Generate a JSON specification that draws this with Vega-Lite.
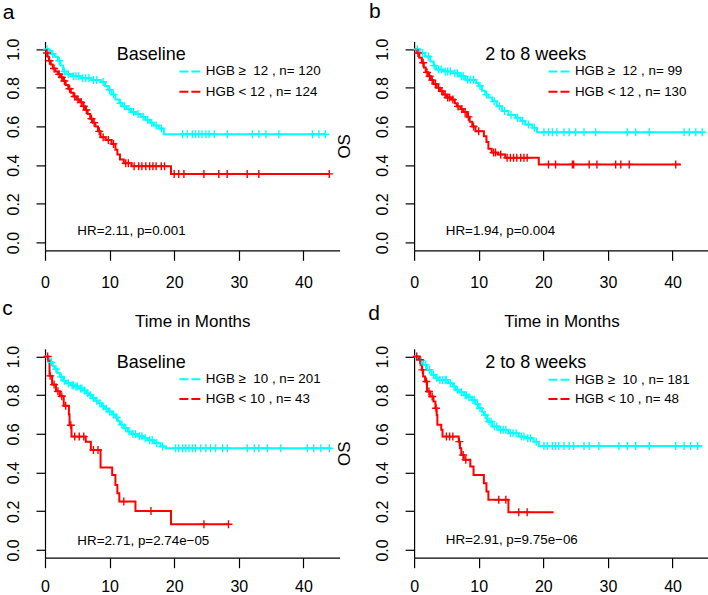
{
"$schema": "https://vega.github.io/schema/vega-lite/v6.json",
"usermeta": {"embedOptions": {"actions": false}},
"background": "white",
"padding": {"left": 2, "top": 0.4, "right": 0, "bottom": 0},
"bounds": "flush",
"columns": 2,
"spacing": {"row": 98.4, "column": 74.1},
"datasets": {
"km": [
{"p":"a","g":"hi","t":0,"s":1},{"p":"a","g":"hi","t":0.6,"s":0.99},{"p":"a","g":"hi","t":1.0,"s":0.975},{"p":"a","g":"hi","t":1.5,"s":0.96},{"p":"a","g":"hi","t":2.0,"s":0.94},{"p":"a","g":"hi","t":2.4,"s":0.915},{"p":"a","g":"hi","t":2.8,"s":0.885},{"p":"a","g":"hi","t":3.3,"s":0.87},{"p":"a","g":"hi","t":4.2,"s":0.86},{"p":"a","g":"hi","t":5.6,"s":0.85},{"p":"a","g":"hi","t":7.2,"s":0.84},{"p":"a","g":"hi","t":8.6,"s":0.83},{"p":"a","g":"hi","t":9.3,"s":0.81},{"p":"a","g":"hi","t":9.8,"s":0.79},{"p":"a","g":"hi","t":10.3,"s":0.765},{"p":"a","g":"hi","t":10.9,"s":0.74},{"p":"a","g":"hi","t":11.5,"s":0.72},{"p":"a","g":"hi","t":12.0,"s":0.705},{"p":"a","g":"hi","t":12.6,"s":0.69},{"p":"a","g":"hi","t":13.3,"s":0.675},{"p":"a","g":"hi","t":14.0,"s":0.665},{"p":"a","g":"hi","t":14.8,"s":0.65},{"p":"a","g":"hi","t":15.5,"s":0.635},{"p":"a","g":"hi","t":16.2,"s":0.62},{"p":"a","g":"hi","t":16.8,"s":0.605},{"p":"a","g":"hi","t":17.6,"s":0.59},{"p":"a","g":"hi","t":18.4,"s":0.56},{"p":"a","g":"hi","t":43.4,"s":0.56},
{"p":"a","g":"lo","t":0,"s":1},{"p":"a","g":"lo","t":0.2,"s":0.98},{"p":"a","g":"lo","t":0.4,"s":0.96},{"p":"a","g":"lo","t":0.6,"s":0.94},{"p":"a","g":"lo","t":0.9,"s":0.92},{"p":"a","g":"lo","t":1.2,"s":0.9},{"p":"a","g":"lo","t":1.6,"s":0.885},{"p":"a","g":"lo","t":2.0,"s":0.87},{"p":"a","g":"lo","t":2.4,"s":0.855},{"p":"a","g":"lo","t":2.8,"s":0.835},{"p":"a","g":"lo","t":3.2,"s":0.815},{"p":"a","g":"lo","t":3.6,"s":0.795},{"p":"a","g":"lo","t":4.0,"s":0.775},{"p":"a","g":"lo","t":4.4,"s":0.755},{"p":"a","g":"lo","t":4.9,"s":0.74},{"p":"a","g":"lo","t":5.4,"s":0.725},{"p":"a","g":"lo","t":5.9,"s":0.705},{"p":"a","g":"lo","t":6.2,"s":0.685},{"p":"a","g":"lo","t":6.6,"s":0.665},{"p":"a","g":"lo","t":7.0,"s":0.64},{"p":"a","g":"lo","t":7.4,"s":0.62},{"p":"a","g":"lo","t":7.8,"s":0.6},{"p":"a","g":"lo","t":8.2,"s":0.575},{"p":"a","g":"lo","t":8.6,"s":0.545},{"p":"a","g":"lo","t":9.4,"s":0.53},{"p":"a","g":"lo","t":10.3,"s":0.51},{"p":"a","g":"lo","t":10.9,"s":0.48},{"p":"a","g":"lo","t":11.2,"s":0.455},{"p":"a","g":"lo","t":11.6,"s":0.43},{"p":"a","g":"lo","t":12.2,"s":0.41},{"p":"a","g":"lo","t":13.4,"s":0.395},{"p":"a","g":"lo","t":19.5,"s":0.355},{"p":"a","g":"lo","t":44.0,"s":0.355},
{"p":"b","g":"hi","t":0,"s":1},{"p":"b","g":"hi","t":0.9,"s":0.98},{"p":"b","g":"hi","t":1.7,"s":0.962},{"p":"b","g":"hi","t":2.5,"s":0.936},{"p":"b","g":"hi","t":3.0,"s":0.915},{"p":"b","g":"hi","t":3.4,"s":0.895},{"p":"b","g":"hi","t":4.5,"s":0.885},{"p":"b","g":"hi","t":6.0,"s":0.875},{"p":"b","g":"hi","t":7.0,"s":0.86},{"p":"b","g":"hi","t":7.9,"s":0.842},{"p":"b","g":"hi","t":9.6,"s":0.825},{"p":"b","g":"hi","t":10.0,"s":0.81},{"p":"b","g":"hi","t":10.5,"s":0.785},{"p":"b","g":"hi","t":11.0,"s":0.765},{"p":"b","g":"hi","t":11.5,"s":0.75},{"p":"b","g":"hi","t":12.1,"s":0.73},{"p":"b","g":"hi","t":12.8,"s":0.705},{"p":"b","g":"hi","t":13.6,"s":0.68},{"p":"b","g":"hi","t":14.6,"s":0.66},{"p":"b","g":"hi","t":15.7,"s":0.645},{"p":"b","g":"hi","t":16.5,"s":0.628},{"p":"b","g":"hi","t":17.2,"s":0.61},{"p":"b","g":"hi","t":18.3,"s":0.593},{"p":"b","g":"hi","t":19.0,"s":0.57},{"p":"b","g":"hi","t":44.6,"s":0.57},
{"p":"b","g":"lo","t":0,"s":1},{"p":"b","g":"lo","t":0.4,"s":0.98},{"p":"b","g":"lo","t":0.8,"s":0.955},{"p":"b","g":"lo","t":1.2,"s":0.93},{"p":"b","g":"lo","t":1.5,"s":0.905},{"p":"b","g":"lo","t":1.8,"s":0.88},{"p":"b","g":"lo","t":2.2,"s":0.86},{"p":"b","g":"lo","t":2.6,"s":0.84},{"p":"b","g":"lo","t":3.0,"s":0.82},{"p":"b","g":"lo","t":3.5,"s":0.8},{"p":"b","g":"lo","t":4.0,"s":0.782},{"p":"b","g":"lo","t":4.5,"s":0.765},{"p":"b","g":"lo","t":5.0,"s":0.75},{"p":"b","g":"lo","t":5.8,"s":0.739},{"p":"b","g":"lo","t":6.3,"s":0.72},{"p":"b","g":"lo","t":6.6,"s":0.704},{"p":"b","g":"lo","t":7.2,"s":0.69},{"p":"b","g":"lo","t":7.6,"s":0.675},{"p":"b","g":"lo","t":8.2,"s":0.65},{"p":"b","g":"lo","t":8.6,"s":0.625},{"p":"b","g":"lo","t":9.0,"s":0.6},{"p":"b","g":"lo","t":9.5,"s":0.576},{"p":"b","g":"lo","t":10.8,"s":0.55},{"p":"b","g":"lo","t":11.2,"s":0.52},{"p":"b","g":"lo","t":11.5,"s":0.485},{"p":"b","g":"lo","t":12.0,"s":0.465},{"p":"b","g":"lo","t":13.0,"s":0.455},{"p":"b","g":"lo","t":14.1,"s":0.438},{"p":"b","g":"lo","t":19.3,"s":0.404},{"p":"b","g":"lo","t":41.3,"s":0.404},
{"p":"c","g":"hi","t":0,"s":1},{"p":"c","g":"hi","t":0.5,"s":0.985},{"p":"c","g":"hi","t":0.9,"s":0.97},{"p":"c","g":"hi","t":1.2,"s":0.95},{"p":"c","g":"hi","t":1.5,"s":0.935},{"p":"c","g":"hi","t":1.9,"s":0.915},{"p":"c","g":"hi","t":2.3,"s":0.895},{"p":"c","g":"hi","t":2.8,"s":0.875},{"p":"c","g":"hi","t":3.3,"s":0.862},{"p":"c","g":"hi","t":4.0,"s":0.852},{"p":"c","g":"hi","t":4.6,"s":0.845},{"p":"c","g":"hi","t":5.3,"s":0.835},{"p":"c","g":"hi","t":5.9,"s":0.825},{"p":"c","g":"hi","t":6.4,"s":0.81},{"p":"c","g":"hi","t":6.8,"s":0.8},{"p":"c","g":"hi","t":7.3,"s":0.785},{"p":"c","g":"hi","t":7.8,"s":0.772},{"p":"c","g":"hi","t":8.3,"s":0.758},{"p":"c","g":"hi","t":8.8,"s":0.742},{"p":"c","g":"hi","t":9.3,"s":0.73},{"p":"c","g":"hi","t":9.8,"s":0.716},{"p":"c","g":"hi","t":10.4,"s":0.7},{"p":"c","g":"hi","t":10.9,"s":0.685},{"p":"c","g":"hi","t":11.3,"s":0.665},{"p":"c","g":"hi","t":11.6,"s":0.648},{"p":"c","g":"hi","t":12.2,"s":0.63},{"p":"c","g":"hi","t":12.8,"s":0.612},{"p":"c","g":"hi","t":13.4,"s":0.6},{"p":"c","g":"hi","t":14.3,"s":0.588},{"p":"c","g":"hi","t":15.2,"s":0.578},{"p":"c","g":"hi","t":15.9,"s":0.567},{"p":"c","g":"hi","t":16.9,"s":0.552},{"p":"c","g":"hi","t":17.9,"s":0.535},{"p":"c","g":"hi","t":18.7,"s":0.526},{"p":"c","g":"hi","t":44.2,"s":0.526},
{"p":"c","g":"lo","t":0,"s":1},{"p":"c","g":"lo","t":0.5,"s":0.975},{"p":"c","g":"lo","t":0.7,"s":0.9},{"p":"c","g":"lo","t":1.1,"s":0.855},{"p":"c","g":"lo","t":1.7,"s":0.82},{"p":"c","g":"lo","t":2.3,"s":0.795},{"p":"c","g":"lo","t":2.9,"s":0.745},{"p":"c","g":"lo","t":3.7,"s":0.7},{"p":"c","g":"lo","t":3.8,"s":0.645},{"p":"c","g":"lo","t":4.1,"s":0.586},{"p":"c","g":"lo","t":6.3,"s":0.56},{"p":"c","g":"lo","t":7.1,"s":0.517},{"p":"c","g":"lo","t":8.6,"s":0.426},{"p":"c","g":"lo","t":10.4,"s":0.388},{"p":"c","g":"lo","t":10.9,"s":0.336},{"p":"c","g":"lo","t":11.2,"s":0.293},{"p":"c","g":"lo","t":11.5,"s":0.25},{"p":"c","g":"lo","t":14.0,"s":0.202},{"p":"c","g":"lo","t":19.5,"s":0.133},{"p":"c","g":"lo","t":28.4,"s":0.133},
{"p":"d","g":"hi","t":0,"s":1},{"p":"d","g":"hi","t":0.6,"s":0.99},{"p":"d","g":"hi","t":0.9,"s":0.98},{"p":"d","g":"hi","t":1.4,"s":0.957},{"p":"d","g":"hi","t":2.0,"s":0.931},{"p":"d","g":"hi","t":2.7,"s":0.905},{"p":"d","g":"hi","t":3.3,"s":0.89},{"p":"d","g":"hi","t":3.8,"s":0.879},{"p":"d","g":"hi","t":5.3,"s":0.862},{"p":"d","g":"hi","t":6.0,"s":0.845},{"p":"d","g":"hi","t":6.4,"s":0.828},{"p":"d","g":"hi","t":7.0,"s":0.815},{"p":"d","g":"hi","t":7.7,"s":0.8},{"p":"d","g":"hi","t":8.3,"s":0.79},{"p":"d","g":"hi","t":8.9,"s":0.776},{"p":"d","g":"hi","t":9.5,"s":0.755},{"p":"d","g":"hi","t":10.0,"s":0.733},{"p":"d","g":"hi","t":10.5,"s":0.715},{"p":"d","g":"hi","t":10.8,"s":0.698},{"p":"d","g":"hi","t":11.3,"s":0.664},{"p":"d","g":"hi","t":12.1,"s":0.638},{"p":"d","g":"hi","t":13.1,"s":0.621},{"p":"d","g":"hi","t":14.6,"s":0.603},{"p":"d","g":"hi","t":16.2,"s":0.586},{"p":"d","g":"hi","t":17.2,"s":0.578},{"p":"d","g":"hi","t":18.5,"s":0.56},{"p":"d","g":"hi","t":19.3,"s":0.538},{"p":"d","g":"hi","t":44.6,"s":0.538},
{"p":"d","g":"lo","t":0,"s":1},{"p":"d","g":"lo","t":0.7,"s":0.983},{"p":"d","g":"lo","t":1.0,"s":0.957},{"p":"d","g":"lo","t":1.2,"s":0.931},{"p":"d","g":"lo","t":1.4,"s":0.897},{"p":"d","g":"lo","t":1.7,"s":0.871},{"p":"d","g":"lo","t":2.0,"s":0.819},{"p":"d","g":"lo","t":2.5,"s":0.793},{"p":"d","g":"lo","t":3.0,"s":0.767},{"p":"d","g":"lo","t":3.3,"s":0.733},{"p":"d","g":"lo","t":3.5,"s":0.698},{"p":"d","g":"lo","t":3.6,"s":0.647},{"p":"d","g":"lo","t":4.2,"s":0.621},{"p":"d","g":"lo","t":4.4,"s":0.586},{"p":"d","g":"lo","t":6.9,"s":0.56},{"p":"d","g":"lo","t":7.1,"s":0.526},{"p":"d","g":"lo","t":7.3,"s":0.491},{"p":"d","g":"lo","t":7.7,"s":0.466},{"p":"d","g":"lo","t":8.7,"s":0.431},{"p":"d","g":"lo","t":9.2,"s":0.388},{"p":"d","g":"lo","t":10.8,"s":0.345},{"p":"d","g":"lo","t":11.2,"s":0.302},{"p":"d","g":"lo","t":11.5,"s":0.259},{"p":"d","g":"lo","t":14.6,"s":0.195},{"p":"d","g":"lo","t":21.6,"s":0.195}
],
"cz": [
{"p":"a","g":"hi","t":0.3,"s":1},{"p":"a","g":"hi","t":1.2,"s":0.975},{"p":"a","g":"hi","t":2.2,"s":0.94},{"p":"a","g":"hi","t":3.0,"s":0.885},{"p":"a","g":"hi","t":3.6,"s":0.87},{"p":"a","g":"hi","t":4.4,"s":0.86},{"p":"a","g":"hi","t":4.8,"s":0.86},{"p":"a","g":"hi","t":5.2,"s":0.86},{"p":"a","g":"hi","t":5.8,"s":0.85},{"p":"a","g":"hi","t":6.3,"s":0.85},{"p":"a","g":"hi","t":6.8,"s":0.85},{"p":"a","g":"hi","t":7.5,"s":0.84},{"p":"a","g":"hi","t":8.0,"s":0.84},{"p":"a","g":"hi","t":9.0,"s":0.83},{"p":"a","g":"hi","t":10.0,"s":0.79},{"p":"a","g":"hi","t":10.6,"s":0.765},{"p":"a","g":"hi","t":11.7,"s":0.72},{"p":"a","g":"hi","t":12.3,"s":0.705},{"p":"a","g":"hi","t":13.0,"s":0.69},{"p":"a","g":"hi","t":13.7,"s":0.675},{"p":"a","g":"hi","t":14.4,"s":0.665},{"p":"a","g":"hi","t":15.2,"s":0.65},{"p":"a","g":"hi","t":15.9,"s":0.635},{"p":"a","g":"hi","t":16.5,"s":0.62},{"p":"a","g":"hi","t":17.2,"s":0.605},{"p":"a","g":"hi","t":18.0,"s":0.59},{"p":"a","g":"hi","t":21.3,"s":0.56},{"p":"a","g":"hi","t":22.0,"s":0.56},{"p":"a","g":"hi","t":22.8,"s":0.56},{"p":"a","g":"hi","t":23.3,"s":0.56},{"p":"a","g":"hi","t":23.8,"s":0.56},{"p":"a","g":"hi","t":24.3,"s":0.56},{"p":"a","g":"hi","t":24.9,"s":0.56},{"p":"a","g":"hi","t":25.4,"s":0.56},{"p":"a","g":"hi","t":26.2,"s":0.56},{"p":"a","g":"hi","t":28.2,"s":0.56},{"p":"a","g":"hi","t":32.1,"s":0.56},{"p":"a","g":"hi","t":33.1,"s":0.56},{"p":"a","g":"hi","t":34.2,"s":0.56},{"p":"a","g":"hi","t":36.2,"s":0.56},{"p":"a","g":"hi","t":41.4,"s":0.56},{"p":"a","g":"hi","t":42.4,"s":0.56},{"p":"a","g":"hi","t":43.4,"s":0.56},
{"p":"a","g":"lo","t":0.3,"s":0.98},{"p":"a","g":"lo","t":0.7,"s":0.94},{"p":"a","g":"lo","t":1.4,"s":0.9},{"p":"a","g":"lo","t":2.2,"s":0.87},{"p":"a","g":"lo","t":2.6,"s":0.855},{"p":"a","g":"lo","t":3.0,"s":0.835},{"p":"a","g":"lo","t":3.8,"s":0.795},{"p":"a","g":"lo","t":4.6,"s":0.755},{"p":"a","g":"lo","t":5.1,"s":0.74},{"p":"a","g":"lo","t":5.6,"s":0.725},{"p":"a","g":"lo","t":6.0,"s":0.705},{"p":"a","g":"lo","t":6.4,"s":0.685},{"p":"a","g":"lo","t":7.2,"s":0.64},{"p":"a","g":"lo","t":7.6,"s":0.62},{"p":"a","g":"lo","t":8.4,"s":0.575},{"p":"a","g":"lo","t":9.0,"s":0.545},{"p":"a","g":"lo","t":9.8,"s":0.53},{"p":"a","g":"lo","t":10.6,"s":0.51},{"p":"a","g":"lo","t":12.5,"s":0.41},{"p":"a","g":"lo","t":12.9,"s":0.41},{"p":"a","g":"lo","t":13.8,"s":0.395},{"p":"a","g":"lo","t":14.5,"s":0.395},{"p":"a","g":"lo","t":15.0,"s":0.395},{"p":"a","g":"lo","t":15.6,"s":0.395},{"p":"a","g":"lo","t":16.2,"s":0.395},{"p":"a","g":"lo","t":16.7,"s":0.395},{"p":"a","g":"lo","t":17.2,"s":0.395},{"p":"a","g":"lo","t":18.0,"s":0.395},{"p":"a","g":"lo","t":18.5,"s":0.395},{"p":"a","g":"lo","t":20.0,"s":0.355},{"p":"a","g":"lo","t":20.7,"s":0.355},{"p":"a","g":"lo","t":21.5,"s":0.355},{"p":"a","g":"lo","t":24.6,"s":0.355},{"p":"a","g":"lo","t":26.9,"s":0.355},{"p":"a","g":"lo","t":28.2,"s":0.355},{"p":"a","g":"lo","t":31.3,"s":0.355},{"p":"a","g":"lo","t":33.1,"s":0.355},{"p":"a","g":"lo","t":44.0,"s":0.355},
{"p":"b","g":"hi","t":0.5,"s":1},{"p":"b","g":"hi","t":1.3,"s":0.98},{"p":"b","g":"hi","t":2.2,"s":0.962},{"p":"b","g":"hi","t":3.1,"s":0.915},{"p":"b","g":"hi","t":3.8,"s":0.895},{"p":"b","g":"hi","t":4.2,"s":0.895},{"p":"b","g":"hi","t":4.8,"s":0.885},{"p":"b","g":"hi","t":5.2,"s":0.885},{"p":"b","g":"hi","t":5.6,"s":0.885},{"p":"b","g":"hi","t":6.3,"s":0.875},{"p":"b","g":"hi","t":6.7,"s":0.875},{"p":"b","g":"hi","t":7.3,"s":0.86},{"p":"b","g":"hi","t":7.6,"s":0.86},{"p":"b","g":"hi","t":8.3,"s":0.842},{"p":"b","g":"hi","t":8.7,"s":0.842},{"p":"b","g":"hi","t":9.2,"s":0.842},{"p":"b","g":"hi","t":10.2,"s":0.81},{"p":"b","g":"hi","t":11.2,"s":0.765},{"p":"b","g":"hi","t":12.4,"s":0.73},{"p":"b","g":"hi","t":13.2,"s":0.705},{"p":"b","g":"hi","t":14.0,"s":0.68},{"p":"b","g":"hi","t":15.0,"s":0.66},{"p":"b","g":"hi","t":16.0,"s":0.645},{"p":"b","g":"hi","t":16.8,"s":0.628},{"p":"b","g":"hi","t":17.7,"s":0.61},{"p":"b","g":"hi","t":18.6,"s":0.593},{"p":"b","g":"hi","t":20.1,"s":0.57},{"p":"b","g":"hi","t":20.8,"s":0.57},{"p":"b","g":"hi","t":21.4,"s":0.57},{"p":"b","g":"hi","t":22.1,"s":0.57},{"p":"b","g":"hi","t":23.2,"s":0.57},{"p":"b","g":"hi","t":24.0,"s":0.57},{"p":"b","g":"hi","t":25.0,"s":0.57},{"p":"b","g":"hi","t":26.3,"s":0.57},{"p":"b","g":"hi","t":28.1,"s":0.57},{"p":"b","g":"hi","t":33.0,"s":0.57},{"p":"b","g":"hi","t":34.3,"s":0.57},{"p":"b","g":"hi","t":36.4,"s":0.57},{"p":"b","g":"hi","t":41.8,"s":0.57},{"p":"b","g":"hi","t":42.6,"s":0.57},{"p":"b","g":"hi","t":43.6,"s":0.57},{"p":"b","g":"hi","t":44.6,"s":0.57},
{"p":"b","g":"lo","t":0.6,"s":0.98},{"p":"b","g":"lo","t":1.4,"s":0.93},{"p":"b","g":"lo","t":2.0,"s":0.88},{"p":"b","g":"lo","t":2.4,"s":0.86},{"p":"b","g":"lo","t":2.8,"s":0.84},{"p":"b","g":"lo","t":3.3,"s":0.82},{"p":"b","g":"lo","t":3.8,"s":0.8},{"p":"b","g":"lo","t":4.3,"s":0.782},{"p":"b","g":"lo","t":4.8,"s":0.765},{"p":"b","g":"lo","t":5.2,"s":0.75},{"p":"b","g":"lo","t":5.5,"s":0.75},{"p":"b","g":"lo","t":6.0,"s":0.739},{"p":"b","g":"lo","t":6.8,"s":0.704},{"p":"b","g":"lo","t":7.4,"s":0.69},{"p":"b","g":"lo","t":7.9,"s":0.675},{"p":"b","g":"lo","t":8.4,"s":0.65},{"p":"b","g":"lo","t":9.2,"s":0.6},{"p":"b","g":"lo","t":10.0,"s":0.576},{"p":"b","g":"lo","t":12.3,"s":0.465},{"p":"b","g":"lo","t":12.6,"s":0.465},{"p":"b","g":"lo","t":13.4,"s":0.455},{"p":"b","g":"lo","t":14.4,"s":0.438},{"p":"b","g":"lo","t":14.9,"s":0.438},{"p":"b","g":"lo","t":15.4,"s":0.438},{"p":"b","g":"lo","t":15.9,"s":0.438},{"p":"b","g":"lo","t":16.5,"s":0.438},{"p":"b","g":"lo","t":17.0,"s":0.438},{"p":"b","g":"lo","t":17.5,"s":0.438},{"p":"b","g":"lo","t":20.8,"s":0.404},{"p":"b","g":"lo","t":21.9,"s":0.404},{"p":"b","g":"lo","t":24.5,"s":0.404},{"p":"b","g":"lo","t":24.7,"s":0.404},{"p":"b","g":"lo","t":27.1,"s":0.404},{"p":"b","g":"lo","t":28.3,"s":0.404},{"p":"b","g":"lo","t":31.2,"s":0.404},{"p":"b","g":"lo","t":32.0,"s":0.404},{"p":"b","g":"lo","t":33.3,"s":0.404},{"p":"b","g":"lo","t":40.5,"s":0.404},
{"p":"c","g":"hi","t":0.4,"s":1},{"p":"c","g":"hi","t":1.0,"s":0.97},{"p":"c","g":"hi","t":1.7,"s":0.935},{"p":"c","g":"hi","t":2.5,"s":0.895},{"p":"c","g":"hi","t":3.0,"s":0.875},{"p":"c","g":"hi","t":3.6,"s":0.862},{"p":"c","g":"hi","t":4.2,"s":0.852},{"p":"c","g":"hi","t":4.4,"s":0.852},{"p":"c","g":"hi","t":4.8,"s":0.845},{"p":"c","g":"hi","t":5.0,"s":0.845},{"p":"c","g":"hi","t":5.5,"s":0.835},{"p":"c","g":"hi","t":5.7,"s":0.835},{"p":"c","g":"hi","t":6.1,"s":0.825},{"p":"c","g":"hi","t":6.6,"s":0.81},{"p":"c","g":"hi","t":7.0,"s":0.8},{"p":"c","g":"hi","t":7.5,"s":0.785},{"p":"c","g":"hi","t":8.0,"s":0.772},{"p":"c","g":"hi","t":8.5,"s":0.758},{"p":"c","g":"hi","t":9.0,"s":0.742},{"p":"c","g":"hi","t":9.5,"s":0.73},{"p":"c","g":"hi","t":10.0,"s":0.716},{"p":"c","g":"hi","t":10.6,"s":0.7},{"p":"c","g":"hi","t":11.1,"s":0.685},{"p":"c","g":"hi","t":11.9,"s":0.648},{"p":"c","g":"hi","t":12.5,"s":0.63},{"p":"c","g":"hi","t":13.0,"s":0.612},{"p":"c","g":"hi","t":13.6,"s":0.6},{"p":"c","g":"hi","t":14.0,"s":0.6},{"p":"c","g":"hi","t":14.6,"s":0.588},{"p":"c","g":"hi","t":15.0,"s":0.588},{"p":"c","g":"hi","t":15.5,"s":0.578},{"p":"c","g":"hi","t":16.2,"s":0.567},{"p":"c","g":"hi","t":16.6,"s":0.567},{"p":"c","g":"hi","t":17.3,"s":0.552},{"p":"c","g":"hi","t":18.2,"s":0.535},{"p":"c","g":"hi","t":20.2,"s":0.526},{"p":"c","g":"hi","t":20.7,"s":0.526},{"p":"c","g":"hi","t":21.3,"s":0.526},{"p":"c","g":"hi","t":21.8,"s":0.526},{"p":"c","g":"hi","t":22.3,"s":0.526},{"p":"c","g":"hi","t":22.8,"s":0.526},{"p":"c","g":"hi","t":23.3,"s":0.526},{"p":"c","g":"hi","t":24.1,"s":0.526},{"p":"c","g":"hi","t":24.9,"s":0.526},{"p":"c","g":"hi","t":25.6,"s":0.526},{"p":"c","g":"hi","t":26.4,"s":0.526},{"p":"c","g":"hi","t":27.5,"s":0.526},{"p":"c","g":"hi","t":28.2,"s":0.526},{"p":"c","g":"hi","t":31.3,"s":0.526},{"p":"c","g":"hi","t":32.4,"s":0.526},{"p":"c","g":"hi","t":33.1,"s":0.526},{"p":"c","g":"hi","t":34.4,"s":0.526},{"p":"c","g":"hi","t":36.5,"s":0.526},{"p":"c","g":"hi","t":40.6,"s":0.526},{"p":"c","g":"hi","t":41.6,"s":0.526},{"p":"c","g":"hi","t":42.7,"s":0.526},{"p":"c","g":"hi","t":44.0,"s":0.526},
{"p":"c","g":"lo","t":0.4,"s":1},{"p":"c","g":"lo","t":0.8,"s":0.9},{"p":"c","g":"lo","t":1.4,"s":0.855},{"p":"c","g":"lo","t":2.0,"s":0.82},{"p":"c","g":"lo","t":2.6,"s":0.795},{"p":"c","g":"lo","t":3.2,"s":0.745},{"p":"c","g":"lo","t":4.0,"s":0.645},{"p":"c","g":"lo","t":4.6,"s":0.586},{"p":"c","g":"lo","t":5.3,"s":0.586},{"p":"c","g":"lo","t":6.0,"s":0.586},{"p":"c","g":"lo","t":7.5,"s":0.517},{"p":"c","g":"lo","t":8.2,"s":0.517},{"p":"c","g":"lo","t":12.2,"s":0.25},{"p":"c","g":"lo","t":16.4,"s":0.202},{"p":"c","g":"lo","t":24.6,"s":0.133},{"p":"c","g":"lo","t":28.4,"s":0.133},
{"p":"d","g":"hi","t":0.4,"s":1},{"p":"d","g":"hi","t":1.1,"s":0.98},{"p":"d","g":"hi","t":1.8,"s":0.957},{"p":"d","g":"hi","t":2.4,"s":0.931},{"p":"d","g":"hi","t":3.0,"s":0.905},{"p":"d","g":"hi","t":3.5,"s":0.89},{"p":"d","g":"hi","t":4.0,"s":0.879},{"p":"d","g":"hi","t":4.4,"s":0.879},{"p":"d","g":"hi","t":4.8,"s":0.879},{"p":"d","g":"hi","t":5.0,"s":0.879},{"p":"d","g":"hi","t":5.6,"s":0.862},{"p":"d","g":"hi","t":6.2,"s":0.845},{"p":"d","g":"hi","t":6.7,"s":0.828},{"p":"d","g":"hi","t":7.3,"s":0.815},{"p":"d","g":"hi","t":7.9,"s":0.8},{"p":"d","g":"hi","t":8.1,"s":0.8},{"p":"d","g":"hi","t":8.5,"s":0.79},{"p":"d","g":"hi","t":9.1,"s":0.776},{"p":"d","g":"hi","t":9.3,"s":0.776},{"p":"d","g":"hi","t":9.8,"s":0.755},{"p":"d","g":"hi","t":10.2,"s":0.733},{"p":"d","g":"hi","t":11.0,"s":0.698},{"p":"d","g":"hi","t":11.6,"s":0.664},{"p":"d","g":"hi","t":11.9,"s":0.664},{"p":"d","g":"hi","t":12.4,"s":0.638},{"p":"d","g":"hi","t":12.8,"s":0.638},{"p":"d","g":"hi","t":13.4,"s":0.621},{"p":"d","g":"hi","t":13.8,"s":0.621},{"p":"d","g":"hi","t":14.2,"s":0.621},{"p":"d","g":"hi","t":14.9,"s":0.603},{"p":"d","g":"hi","t":15.3,"s":0.603},{"p":"d","g":"hi","t":15.8,"s":0.603},{"p":"d","g":"hi","t":16.6,"s":0.586},{"p":"d","g":"hi","t":17.0,"s":0.586},{"p":"d","g":"hi","t":17.6,"s":0.578},{"p":"d","g":"hi","t":18.0,"s":0.578},{"p":"d","g":"hi","t":18.9,"s":0.56},{"p":"d","g":"hi","t":20.1,"s":0.538},{"p":"d","g":"hi","t":20.6,"s":0.538},{"p":"d","g":"hi","t":21.4,"s":0.538},{"p":"d","g":"hi","t":21.9,"s":0.538},{"p":"d","g":"hi","t":22.4,"s":0.538},{"p":"d","g":"hi","t":23.2,"s":0.538},{"p":"d","g":"hi","t":24.0,"s":0.538},{"p":"d","g":"hi","t":24.7,"s":0.538},{"p":"d","g":"hi","t":26.3,"s":0.538},{"p":"d","g":"hi","t":27.1,"s":0.538},{"p":"d","g":"hi","t":28.6,"s":0.538},{"p":"d","g":"hi","t":31.7,"s":0.538},{"p":"d","g":"hi","t":33.0,"s":0.538},{"p":"d","g":"hi","t":34.3,"s":0.538},{"p":"d","g":"hi","t":36.4,"s":0.538},{"p":"d","g":"hi","t":40.5,"s":0.538},{"p":"d","g":"hi","t":41.8,"s":0.538},{"p":"d","g":"hi","t":42.8,"s":0.538},{"p":"d","g":"hi","t":43.9,"s":0.538},
{"p":"d","g":"lo","t":0.4,"s":1},{"p":"d","g":"lo","t":0.9,"s":0.983},{"p":"d","g":"lo","t":1.3,"s":0.931},{"p":"d","g":"lo","t":1.9,"s":0.871},{"p":"d","g":"lo","t":2.3,"s":0.819},{"p":"d","g":"lo","t":2.8,"s":0.793},{"p":"d","g":"lo","t":3.4,"s":0.733},{"p":"d","g":"lo","t":5.0,"s":0.586},{"p":"d","g":"lo","t":5.5,"s":0.586},{"p":"d","g":"lo","t":6.0,"s":0.586},{"p":"d","g":"lo","t":7.0,"s":0.56},{"p":"d","g":"lo","t":7.6,"s":0.491},{"p":"d","g":"lo","t":8.0,"s":0.466},{"p":"d","g":"lo","t":13.1,"s":0.259},{"p":"d","g":"lo","t":14.2,"s":0.259},{"p":"d","g":"lo","t":16.2,"s":0.195},{"p":"d","g":"lo","t":17.5,"s":0.195}
]
},
"concat": [
{
"width": 294.6, "height": 208.9,
"layer": [
{"data": {"name": "km"}, "transform": [{"filter": "datum.p == 'a'"}], "mark": {"type": "line", "interpolate": "step-after", "strokeWidth": 2},
 "encoding": {"x": {"field": "t", "type": "quantitative", "scale": {"domain": [0, 45.6], "nice": false, "zero": false}, "axis": {"values": [0, 10, 20, 30, 40], "title": "Time in Months"}},
  "y": {"field": "s", "type": "quantitative", "scale": {"domain": [-0.04, 1.04], "nice": false, "zero": false}, "axis": {"values": [0, 0.2, 0.4, 0.6, 0.8, 1], "format": ".1f", "title": null}},
  "color": {"field": "g", "type": "nominal", "scale": {"domain": ["hi", "lo"], "range": ["#00FFFF", "#FF0000"]}, "legend": null}}},
{"data": {"name": "cz"}, "transform": [{"filter": "datum.p == 'a'"}], "mark": {"type": "point", "shape": "M-1,0H1M0,-1V1", "size": 64, "strokeWidth": 1.4, "filled": false, "opacity": 1},
 "encoding": {"x": {"field": "t", "type": "quantitative"}, "y": {"field": "s", "type": "quantitative"}, "color": {"field": "g", "type": "nominal", "legend": null}}},
{"data": {"values": [{}]}, "mark": {"type": "rule", "strokeDash": [9, 3], "strokeWidth": 2, "color": "#00FFFF"}, "encoding": {"x": {"datum": 20.8}, "x2": {"datum": 24.2}, "y": {"datum": 0.885}}},
{"data": {"values": [{}]}, "mark": {"type": "rule", "strokeDash": [9, 3], "strokeWidth": 2, "color": "#FF0000"}, "encoding": {"x": {"datum": 20.8}, "x2": {"datum": 24.2}, "y": {"datum": 0.78}}},
{"data": {"values": [{}]}, "mark": {"type": "text", "align": "left", "baseline": "middle", "fontSize": 13.4}, "encoding": {"x": {"datum": 24.9}, "y": {"datum": 0.885}, "text": {"value": "HGB ≥\u00a0 12 , n= 120"}}},
{"data": {"values": [{}]}, "mark": {"type": "text", "align": "left", "baseline": "middle", "fontSize": 13.4}, "encoding": {"x": {"datum": 24.9}, "y": {"datum": 0.78}, "text": {"value": "HGB < 12 , n= 124"}}},
{"data": {"values": [{}]}, "mark": {"type": "text", "align": "left", "baseline": "alphabetic", "fontSize": 18}, "encoding": {"x": {"datum": 11.1}, "y": {"datum": 0.944}, "text": {"value": "Baseline"}}},
{"data": {"values": [{}]}, "mark": {"type": "text", "align": "left", "baseline": "alphabetic", "fontSize": 13.4}, "encoding": {"x": {"datum": 5.0}, "y": {"datum": 0.04}, "text": {"value": "HR=2.11, p=0.001"}}},
{"data": {"values": [{}]}, "mark": {"type": "text", "align": "left", "baseline": "alphabetic", "fontSize": 21}, "encoding": {"x": {"datum": -6.55}, "y": {"datum": 1.157}, "text": {"value": "a"}}}
]
},
{
"width": 294.6, "height": 208.9,
"layer": [
{"data": {"name": "km"}, "transform": [{"filter": "datum.p == 'b'"}], "mark": {"type": "line", "interpolate": "step-after", "strokeWidth": 2},
 "encoding": {"x": {"field": "t", "type": "quantitative", "scale": {"domain": [0, 45.6], "nice": false, "zero": false}, "axis": {"values": [0, 10, 20, 30, 40], "title": "Time in Months"}},
  "y": {"field": "s", "type": "quantitative", "scale": {"domain": [-0.04, 1.04], "nice": false, "zero": false}, "axis": {"values": [0, 0.2, 0.4, 0.6, 0.8, 1], "format": ".1f", "title": "OS"}},
  "color": {"field": "g", "type": "nominal", "scale": {"domain": ["hi", "lo"], "range": ["#00FFFF", "#FF0000"]}, "legend": null}}},
{"data": {"name": "cz"}, "transform": [{"filter": "datum.p == 'b'"}], "mark": {"type": "point", "shape": "M-1,0H1M0,-1V1", "size": 64, "strokeWidth": 1.4, "filled": false, "opacity": 1},
 "encoding": {"x": {"field": "t", "type": "quantitative"}, "y": {"field": "s", "type": "quantitative"}, "color": {"field": "g", "type": "nominal", "legend": null}}},
{"data": {"values": [{}]}, "mark": {"type": "rule", "strokeDash": [9, 3], "strokeWidth": 2, "color": "#00FFFF"}, "encoding": {"x": {"datum": 20.8}, "x2": {"datum": 24.2}, "y": {"datum": 0.885}}},
{"data": {"values": [{}]}, "mark": {"type": "rule", "strokeDash": [9, 3], "strokeWidth": 2, "color": "#FF0000"}, "encoding": {"x": {"datum": 20.8}, "x2": {"datum": 24.2}, "y": {"datum": 0.78}}},
{"data": {"values": [{}]}, "mark": {"type": "text", "align": "left", "baseline": "middle", "fontSize": 13.4}, "encoding": {"x": {"datum": 24.9}, "y": {"datum": 0.885}, "text": {"value": "HGB ≥\u00a0 12 , n= 99"}}},
{"data": {"values": [{}]}, "mark": {"type": "text", "align": "left", "baseline": "middle", "fontSize": 13.4}, "encoding": {"x": {"datum": 24.9}, "y": {"datum": 0.78}, "text": {"value": "HGB < 12 , n= 130"}}},
{"data": {"values": [{}]}, "mark": {"type": "text", "align": "left", "baseline": "alphabetic", "fontSize": 18}, "encoding": {"x": {"datum": 11.0}, "y": {"datum": 0.944}, "text": {"value": "2 to 8 weeks"}}},
{"data": {"values": [{}]}, "mark": {"type": "text", "align": "left", "baseline": "alphabetic", "fontSize": 13.4}, "encoding": {"x": {"datum": 4.9}, "y": {"datum": 0.038}, "text": {"value": "HR=1.94, p=0.004"}}},
{"data": {"values": [{}]}, "mark": {"type": "text", "align": "left", "baseline": "alphabetic", "fontSize": 21}, "encoding": {"x": {"datum": -7.0}, "y": {"datum": 1.16}, "text": {"value": "b"}}}
]
},
{
"width": 294.6, "height": 208.9,
"layer": [
{"data": {"name": "km"}, "transform": [{"filter": "datum.p == 'c'"}], "mark": {"type": "line", "interpolate": "step-after", "strokeWidth": 2},
 "encoding": {"x": {"field": "t", "type": "quantitative", "scale": {"domain": [0, 45.6], "nice": false, "zero": false}, "axis": {"values": [0, 10, 20, 30, 40], "title": null, "labelPadding": 11}},
  "y": {"field": "s", "type": "quantitative", "scale": {"domain": [-0.04, 1.04], "nice": false, "zero": false}, "axis": {"values": [0, 0.2, 0.4, 0.6, 0.8, 1], "format": ".1f", "title": null}},
  "color": {"field": "g", "type": "nominal", "scale": {"domain": ["hi", "lo"], "range": ["#00FFFF", "#FF0000"]}, "legend": null}}},
{"data": {"name": "cz"}, "transform": [{"filter": "datum.p == 'c'"}], "mark": {"type": "point", "shape": "M-1,0H1M0,-1V1", "size": 64, "strokeWidth": 1.4, "filled": false, "opacity": 1},
 "encoding": {"x": {"field": "t", "type": "quantitative"}, "y": {"field": "s", "type": "quantitative"}, "color": {"field": "g", "type": "nominal", "legend": null}}},
{"data": {"values": [{}]}, "mark": {"type": "rule", "strokeDash": [9, 3], "strokeWidth": 2, "color": "#00FFFF"}, "encoding": {"x": {"datum": 20.8}, "x2": {"datum": 24.2}, "y": {"datum": 0.883}}},
{"data": {"values": [{}]}, "mark": {"type": "rule", "strokeDash": [9, 3], "strokeWidth": 2, "color": "#FF0000"}, "encoding": {"x": {"datum": 20.8}, "x2": {"datum": 24.2}, "y": {"datum": 0.78}}},
{"data": {"values": [{}]}, "mark": {"type": "text", "align": "left", "baseline": "middle", "fontSize": 13.4}, "encoding": {"x": {"datum": 24.9}, "y": {"datum": 0.883}, "text": {"value": "HGB ≥\u00a0 10 , n= 201"}}},
{"data": {"values": [{}]}, "mark": {"type": "text", "align": "left", "baseline": "middle", "fontSize": 13.4}, "encoding": {"x": {"datum": 24.9}, "y": {"datum": 0.78}, "text": {"value": "HGB < 10 , n= 43"}}},
{"data": {"values": [{}]}, "mark": {"type": "text", "align": "left", "baseline": "alphabetic", "fontSize": 18}, "encoding": {"x": {"datum": 11.1}, "y": {"datum": 0.943}, "text": {"value": "Baseline"}}},
{"data": {"values": [{}]}, "mark": {"type": "text", "align": "left", "baseline": "alphabetic", "fontSize": 13.4}, "encoding": {"x": {"datum": 5.0}, "y": {"datum": 0.027}, "text": {"value": "HR=2.71, p=2.74e−05"}}},
{"data": {"values": [{}]}, "mark": {"type": "text", "align": "left", "baseline": "alphabetic", "fontSize": 21}, "encoding": {"x": {"datum": -6.6}, "y": {"datum": 1.216}, "text": {"value": "c"}}}
]
},
{
"width": 294.6, "height": 208.9,
"layer": [
{"data": {"name": "km"}, "transform": [{"filter": "datum.p == 'd'"}], "mark": {"type": "line", "interpolate": "step-after", "strokeWidth": 2},
 "encoding": {"x": {"field": "t", "type": "quantitative", "scale": {"domain": [0, 45.6], "nice": false, "zero": false}, "axis": {"values": [0, 10, 20, 30, 40], "title": null, "labelPadding": 11}},
  "y": {"field": "s", "type": "quantitative", "scale": {"domain": [-0.04, 1.04], "nice": false, "zero": false}, "axis": {"values": [0, 0.2, 0.4, 0.6, 0.8, 1], "format": ".1f", "title": "OS"}},
  "color": {"field": "g", "type": "nominal", "scale": {"domain": ["hi", "lo"], "range": ["#00FFFF", "#FF0000"]}, "legend": null}}},
{"data": {"name": "cz"}, "transform": [{"filter": "datum.p == 'd'"}], "mark": {"type": "point", "shape": "M-1,0H1M0,-1V1", "size": 64, "strokeWidth": 1.4, "filled": false, "opacity": 1},
 "encoding": {"x": {"field": "t", "type": "quantitative"}, "y": {"field": "s", "type": "quantitative"}, "color": {"field": "g", "type": "nominal", "legend": null}}},
{"data": {"values": [{}]}, "mark": {"type": "rule", "strokeDash": [9, 3], "strokeWidth": 2, "color": "#00FFFF"}, "encoding": {"x": {"datum": 20.8}, "x2": {"datum": 24.2}, "y": {"datum": 0.88}}},
{"data": {"values": [{}]}, "mark": {"type": "rule", "strokeDash": [9, 3], "strokeWidth": 2, "color": "#FF0000"}, "encoding": {"x": {"datum": 20.8}, "x2": {"datum": 24.2}, "y": {"datum": 0.78}}},
{"data": {"values": [{}]}, "mark": {"type": "text", "align": "left", "baseline": "middle", "fontSize": 13.4}, "encoding": {"x": {"datum": 24.9}, "y": {"datum": 0.88}, "text": {"value": "HGB ≥\u00a0 10 , n= 181"}}},
{"data": {"values": [{}]}, "mark": {"type": "text", "align": "left", "baseline": "middle", "fontSize": 13.4}, "encoding": {"x": {"datum": 24.9}, "y": {"datum": 0.78}, "text": {"value": "HGB < 10 , n= 48"}}},
{"data": {"values": [{}]}, "mark": {"type": "text", "align": "left", "baseline": "alphabetic", "fontSize": 18}, "encoding": {"x": {"datum": 11.0}, "y": {"datum": 0.943}, "text": {"value": "2 to 8 weeks"}}},
{"data": {"values": [{}]}, "mark": {"type": "text", "align": "left", "baseline": "alphabetic", "fontSize": 13.4}, "encoding": {"x": {"datum": 4.9}, "y": {"datum": 0.03}, "text": {"value": "HR=2.91, p=9.75e−06"}}},
{"data": {"values": [{}]}, "mark": {"type": "text", "align": "left", "baseline": "alphabetic", "fontSize": 21}, "encoding": {"x": {"datum": -7.1}, "y": {"datum": 1.19}, "text": {"value": "d"}}}
]
}
],
"config": {
 "view": {"stroke": null},
 "font": "Liberation Sans",
 "axis": {"grid": false, "domainColor": "#000000", "domainWidth": 1.2, "tickColor": "#000000", "tickWidth": 1.2, "labelColor": "#000000", "labelFontSize": 16, "labelFont": "Liberation Sans", "labelFlush": false, "labelOverlap": false, "titleColor": "#000000", "titleFontSize": 17, "titleFontWeight": "normal", "titleFont": "Liberation Sans"},
 "axisX": {"tickSize": 10, "labelPadding": 14, "titlePadding": 23.5},
 "axisY": {"tickSize": 9, "labelPadding": 15, "labelAngle": 270, "labelAlign": "center", "labelBaseline": "bottom", "titlePadding": 21},
 "text": {"color": "#000000", "font": "Liberation Sans"}
}
}
